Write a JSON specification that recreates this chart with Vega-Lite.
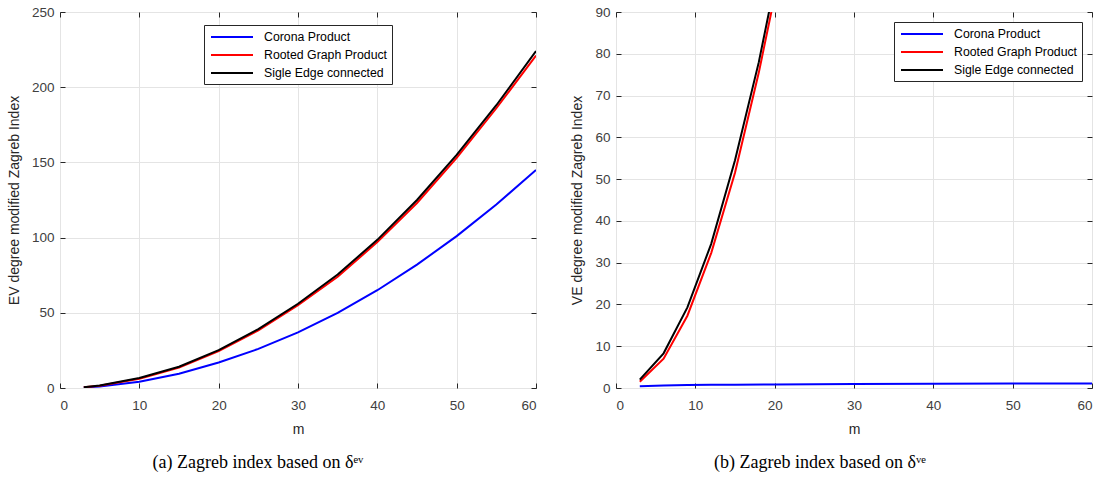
{
  "$schema": "https://vega.github.io/schema/vega-lite/v6.json",
  "background": "white",
  "padding": {"left": 6, "top": 4, "right": 10, "bottom": 0},
  "spacing": 33,
  "config": {
    "font": "Liberation Sans",
    "view": {"stroke": "#262626", "strokeWidth": 1},
    "axis": {
      "domain": false,
      "tickColor": "#262626",
      "tickSize": -5,
      "labelColor": "#404040",
      "titleColor": "#262626",
      "labelFont": "Liberation Sans",
      "titleFont": "Liberation Sans",
      "labelFontSize": 13.5,
      "titleFontSize": 14,
      "titleFontWeight": "normal",
      "gridColor": "#e4e4e4"
    },
    "axisX": {"labelPadding": 15, "titlePadding": 11},
    "axisY": {"labelPadding": 11, "titlePadding": 10},
    "legend": {
      "orient": "none",
      "strokeColor": "#262626",
      "fillColor": "white",
      "padding": 4,
      "symbolType": "M-3,0H3",
      "symbolSize": 196,
      "symbolOffset": 16,
      "labelOffset": 24,
      "symbolStrokeWidth": 2,
      "labelFont": "Liberation Sans",
      "labelFontSize": 12.3,
      "labelColor": "#000000",
      "rowPadding": 3,
      "cornerRadius": 0
    }
  },
  "datasets": {
    "ev": [
      {"m": 3, "value": 0.4, "series": "Corona Product"},
      {"m": 5, "value": 1.0, "series": "Corona Product"},
      {"m": 10, "value": 4.2, "series": "Corona Product"},
      {"m": 15, "value": 9.5, "series": "Corona Product"},
      {"m": 20, "value": 17, "series": "Corona Product"},
      {"m": 25, "value": 26, "series": "Corona Product"},
      {"m": 30, "value": 37, "series": "Corona Product"},
      {"m": 35, "value": 50, "series": "Corona Product"},
      {"m": 40, "value": 65, "series": "Corona Product"},
      {"m": 45, "value": 82, "series": "Corona Product"},
      {"m": 50, "value": 101, "series": "Corona Product"},
      {"m": 55, "value": 122, "series": "Corona Product"},
      {"m": 60, "value": 145, "series": "Corona Product"},
      {"m": 3, "value": 0.5, "series": "Rooted Graph Product"},
      {"m": 5, "value": 1.5, "series": "Rooted Graph Product"},
      {"m": 10, "value": 6.2, "series": "Rooted Graph Product"},
      {"m": 15, "value": 13.6, "series": "Rooted Graph Product"},
      {"m": 20, "value": 24.5, "series": "Rooted Graph Product"},
      {"m": 25, "value": 38.3, "series": "Rooted Graph Product"},
      {"m": 30, "value": 55, "series": "Rooted Graph Product"},
      {"m": 35, "value": 74, "series": "Rooted Graph Product"},
      {"m": 40, "value": 97, "series": "Rooted Graph Product"},
      {"m": 45, "value": 123, "series": "Rooted Graph Product"},
      {"m": 50, "value": 153, "series": "Rooted Graph Product"},
      {"m": 55, "value": 186, "series": "Rooted Graph Product"},
      {"m": 60, "value": 221, "series": "Rooted Graph Product"},
      {"m": 3, "value": 0.5, "series": "Sigle Edge connected"},
      {"m": 5, "value": 1.6, "series": "Sigle Edge connected"},
      {"m": 10, "value": 6.6, "series": "Sigle Edge connected"},
      {"m": 15, "value": 14.1, "series": "Sigle Edge connected"},
      {"m": 20, "value": 25.2, "series": "Sigle Edge connected"},
      {"m": 25, "value": 39.2, "series": "Sigle Edge connected"},
      {"m": 30, "value": 56, "series": "Sigle Edge connected"},
      {"m": 35, "value": 75.5, "series": "Sigle Edge connected"},
      {"m": 40, "value": 98.5, "series": "Sigle Edge connected"},
      {"m": 45, "value": 125, "series": "Sigle Edge connected"},
      {"m": 50, "value": 155, "series": "Sigle Edge connected"},
      {"m": 55, "value": 188, "series": "Sigle Edge connected"},
      {"m": 60, "value": 224, "series": "Sigle Edge connected"}
    ],
    "ve": [
      {"m": 3, "value": 0.4, "series": "Corona Product"},
      {"m": 6, "value": 0.6, "series": "Corona Product"},
      {"m": 9, "value": 0.7, "series": "Corona Product"},
      {"m": 12, "value": 0.75, "series": "Corona Product"},
      {"m": 15, "value": 0.8, "series": "Corona Product"},
      {"m": 20, "value": 0.85, "series": "Corona Product"},
      {"m": 30, "value": 0.95, "series": "Corona Product"},
      {"m": 40, "value": 1.0, "series": "Corona Product"},
      {"m": 50, "value": 1.05, "series": "Corona Product"},
      {"m": 60, "value": 1.1, "series": "Corona Product"},
      {"m": 3, "value": 1.5, "series": "Rooted Graph Product"},
      {"m": 6, "value": 7.0, "series": "Rooted Graph Product"},
      {"m": 9, "value": 17.3, "series": "Rooted Graph Product"},
      {"m": 12, "value": 32.3, "series": "Rooted Graph Product"},
      {"m": 15, "value": 51.5, "series": "Rooted Graph Product"},
      {"m": 18, "value": 75.5, "series": "Rooted Graph Product"},
      {"m": 21, "value": 103, "series": "Rooted Graph Product"},
      {"m": 3, "value": 2.0, "series": "Sigle Edge connected"},
      {"m": 6, "value": 8.3, "series": "Sigle Edge connected"},
      {"m": 9, "value": 19.3, "series": "Sigle Edge connected"},
      {"m": 12, "value": 34.5, "series": "Sigle Edge connected"},
      {"m": 15, "value": 54.5, "series": "Sigle Edge connected"},
      {"m": 18, "value": 78, "series": "Sigle Edge connected"},
      {"m": 21, "value": 106, "series": "Sigle Edge connected"}
    ]
  },
  "resolve": {"scale": {"color": "independent"}, "legend": {"color": "independent"}},
  "hconcat": [
    {
      "width": 476,
      "height": 376,
      "title": {"text": "(a) Zagreb index based on δᵉᵛ", "orient": "bottom", "frame": "group", "anchor": "middle", "dx": -40, "font": "Liberation Serif", "fontSize": 18, "fontWeight": "normal", "color": "#000000", "offset": 17},
      "data": {"name": "ev"},
      "layer": [
        {
          "mark": {"type": "line", "strokeWidth": 2, "clip": true},
          "encoding": {
            "x": {"field": "m", "type": "quantitative", "scale": {"domain": [0, 60], "nice": false}, "axis": {"title": "m", "values": [0, 10, 20, 30, 40, 50, 60], "grid": true}},
            "y": {"field": "value", "type": "quantitative", "scale": {"domain": [0, 250], "nice": false}, "axis": {"title": "EV degree modified Zagreb Index", "values": [0, 50, 100, 150, 200, 250], "grid": true}},
            "color": {"field": "series", "type": "nominal", "scale": {"domain": ["Corona Product", "Rooted Graph Product", "Sigle Edge connected"], "range": ["#0000ff", "#ff0000", "#000000"]}, "legend": {"title": null, "legendX": 144, "legendY": 13}}
          }
        },
        {
          "mark": {"type": "point", "opacity": 0, "clip": true},
          "encoding": {
            "x": {"field": "m", "type": "quantitative", "axis": {"orient": "top", "labels": false, "grid": false, "title": null, "values": [0, 10, 20, 30, 40, 50, 60]}},
            "y": {"field": "value", "type": "quantitative", "axis": {"orient": "right", "labels": false, "grid": false, "title": null, "values": [0, 50, 100, 150, 200, 250]}}
          }
        }
      ],
      "resolve": {"axis": {"x": "independent", "y": "independent"}}
    },
    {
      "width": 476,
      "height": 376,
      "title": {"text": "(b) Zagreb index based on δᵛᵉ", "orient": "bottom", "frame": "group", "anchor": "middle", "dx": -34, "font": "Liberation Serif", "fontSize": 18, "fontWeight": "normal", "color": "#000000", "offset": 17},
      "data": {"name": "ve"},
      "layer": [
        {
          "mark": {"type": "line", "strokeWidth": 2, "clip": true},
          "encoding": {
            "x": {"field": "m", "type": "quantitative", "scale": {"domain": [0, 60], "nice": false}, "axis": {"title": "m", "values": [0, 10, 20, 30, 40, 50, 60], "grid": true}},
            "y": {"field": "value", "type": "quantitative", "scale": {"domain": [0, 90], "nice": false}, "axis": {"title": "VE degree modified Zagreb Index", "values": [0, 10, 20, 30, 40, 50, 60, 70, 80, 90], "grid": true}},
            "color": {"field": "series", "type": "nominal", "scale": {"domain": ["Corona Product", "Rooted Graph Product", "Sigle Edge connected"], "range": ["#0000ff", "#ff0000", "#000000"]}, "legend": {"title": null, "legendX": 278, "legendY": 10}}
          }
        },
        {
          "mark": {"type": "point", "opacity": 0, "clip": true},
          "encoding": {
            "x": {"field": "m", "type": "quantitative", "axis": {"orient": "top", "labels": false, "grid": false, "title": null, "values": [0, 10, 20, 30, 40, 50, 60]}},
            "y": {"field": "value", "type": "quantitative", "axis": {"orient": "right", "labels": false, "grid": false, "title": null, "values": [0, 10, 20, 30, 40, 50, 60, 70, 80, 90]}}
          }
        }
      ],
      "resolve": {"axis": {"x": "independent", "y": "independent"}}
    }
  ]
}
